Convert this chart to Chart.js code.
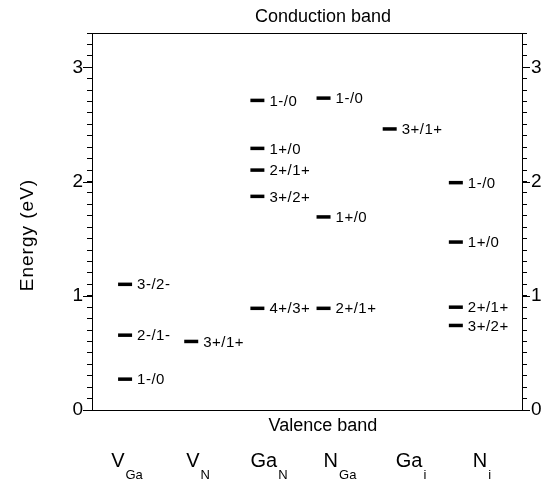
<!DOCTYPE html>
<html>
<head>
<meta charset="utf-8">
<script src="https://cdn.jsdelivr.net/npm/chart.js@4/dist/chart.umd.min.js"></script>
<style>
    html, body { margin: 0; padding: 0; background: #fff; }
    #wrap { width: 547px; height: 482px; }
</style>
</head>
<body>
<div id="wrap"><canvas id="chart" width="547" height="482"></canvas></div>
<script>
// defect names: main symbol + subscript
var defectMain = ["V", "V", "Ga", "N", "Ga", "N"];
var defectSub = ["Ga", "N", "N", "Ga", "i", "i"];

// transition levels, eV above the valence band
var levelDefect = [0, 0, 0, 1, 2, 2, 2, 2, 2, 3, 3, 3, 4, 5, 5, 5, 5];
var levelEnergy = [1.10, 0.655, 0.27, 0.60, 2.71, 2.29, 2.10, 1.87, 0.89, 2.73, 1.69, 0.89, 2.46, 1.99, 1.47, 0.90, 0.74];
var levelName = ["3-/2-", "2-/1-", "1-/0", "3+/1+", "1-/0", "1+/0", "2+/1+", "3+/2+", "4+/3+", "1-/0", "1+/0", "2+/1+", "3+/1+", "1-/0", "1+/0", "2+/1+", "3+/2+"];

var yTickLabels = [0, 1, 2, 3];
var bandGap = 3.3;

var FONT = "'Liberation Sans', Arial, Helvetica, sans-serif";

var points = levelDefect.map(function(d, i) {
    return { x: d + 1, y: levelEnergy[i] };
});

function tickLabel(v) {
    var r = Math.round(v);
    if (Math.abs(v - r) < 1e-6 && yTickLabels.indexOf(r) >= 0) return String(r);
    return "";
}

var textLayer = {
    id: "textLayer",
    afterDraw: function(chart) {
        var ctx = chart.ctx;
        var xs = chart.scales.x;
        var ys = chart.scales.y;
        var area = chart.chartArea;
        ctx.save();
        ctx.fillStyle = "#000";
        ctx.strokeStyle = "#000";

        // longer ticks at the labelled values
        ctx.lineWidth = 1;
        ctx.beginPath();
        yTickLabels.forEach(function(v) {
            var py = Math.round(ys.getPixelForValue(v)) + 0.5;
            ctx.moveTo(area.left - 9, py); ctx.lineTo(area.left, py);
            ctx.moveTo(area.right, py); ctx.lineTo(area.right + 8, py);
        });
        ctx.stroke();

        // level labels next to each bar
        ctx.font = "15px " + FONT;
        ctx.letterSpacing = "0.5px";
        ctx.textAlign = "left";
        ctx.textBaseline = "middle";
        levelName.forEach(function(name, i) {
            var px = xs.getPixelForValue(levelDefect[i] + 1) + 7 + 5;
            var py = ys.getPixelForValue(levelEnergy[i]);
            ctx.fillText(name, px, py + 1);
        });
        ctx.letterSpacing = "0px";

        // band edges
        ctx.font = "18px " + FONT;
        ctx.textAlign = "center";
        var cx = (area.left + area.right) / 2 + 16;
        ctx.fillText("Conduction band", cx, 17);
        ctx.fillText("Valence band", cx, area.bottom + 16);

        // y title
        ctx.save();
        ctx.font = "19px " + FONT;
        ctx.letterSpacing = "1px";
        ctx.translate(28, 235);
        ctx.rotate(-Math.PI / 2);
        ctx.fillText("Energy (eV)", 0, 0);
        ctx.restore();

        // defect names with subscripts
        ctx.textAlign = "left";
        ctx.textBaseline = "alphabetic";
        defectMain.forEach(function(m, i) {
            ctx.font = "20px " + FONT;
            var wm = ctx.measureText(m).width;
            ctx.font = "13px " + FONT;
            var ws = ctx.measureText(defectSub[i]).width;
            var left = area.left + 35 + i * 71 - (wm + ws + 1) / 2;
            ctx.font = "20px " + FONT;
            ctx.fillText(m, left, 467);
            ctx.font = "13px " + FONT;
            ctx.fillText(defectSub[i], left + wm + 1, 479);
        });
        ctx.restore();
    }
};

var yAxis = function(pos, width) {
    return {
        type: "linear",
        position: pos,
        min: 0,
        max: bandGap,
        afterFit: function(s) { s.width = width; },
        border: { display: true, color: "#000", width: 1 },
        grid: { display: true, drawOnChartArea: false, tickLength: 5, color: "#000", tickColor: "#000" },
        ticks: {
            stepSize: 0.1,
            autoSkip: false,
            padding: 4,
            color: "#000",
            font: { family: FONT, size: 19 },
            callback: tickLabel
        }
    };
};

var chart = new Chart(document.getElementById("chart").getContext("2d"), {
    type: "scatter",
    data: {
        datasets: [{
            data: points,
            pointStyle: "line",
            pointRadius: 7,
            pointHoverRadius: 7,
            borderWidth: 3.5,
            borderColor: "#000",
            backgroundColor: "#000"
        }]
    },
    options: {
        responsive: false,
        animation: false,
        events: [],
        layout: { padding: { top: 33, left: 0, right: 0, bottom: 0 } },
        plugins: { legend: { display: false }, tooltip: { enabled: false } },
        scales: {
            x: {
                type: "linear", position: "bottom", min: 0.5, max: 7, offset: false,
                afterFit: function(s) { s.height = 72; },
                border: { display: true, color: "#000", width: 1 },
                grid: { display: false },
                ticks: { display: false }
            },
            xTop: {
                type: "linear", position: "top", min: 0.5, max: 7, offset: false,
                afterFit: function(s) { s.height = 0; },
                border: { display: true, color: "#000", width: 1 },
                grid: { display: false },
                ticks: { display: false }
            },
            y: yAxis("left", 92),
            y2: yAxis("right", 25)
        }
    },
    plugins: [textLayer]
});
</script>
</body>
</html>
